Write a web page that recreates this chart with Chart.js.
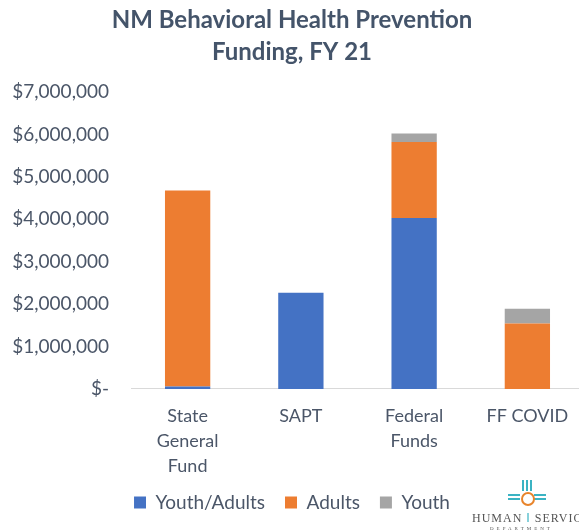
<!DOCTYPE html>
<html>
<head>
<meta charset="utf-8">
<script src="https://cdn.jsdelivr.net/npm/chart.js@4"></script>
<style>
  html, body { margin: 0; padding: 0; background: #fff; overflow: hidden; width: 579px; height: 531px; }
  #wrap { position: absolute; left: 0; top: 0; width: 592px; height: 531px; }
  #logo { position: absolute; left: 472px; top: 480px; width: 120px; height: 51px; font-family: "Liberation Serif", serif; color: #555; }
  #logo .name { position: absolute; top: 31px; left: 0; font-size: 12px; letter-spacing: 1px; white-space: nowrap; }
  #logo .dept { position: absolute; top: 46px; left: 18px; font-size: 5px; letter-spacing: 3px; white-space: nowrap; }
  #logo .sun { position: absolute; left: 49px; top: 12px; width: 10px; height: 10px; border-radius: 50%; border: 2px solid #e8842b; }
  #logo .rv, #logo .rh { position: absolute; background: #3bb3c3; }
</style>
</head>
<body>
<div id="wrap"><canvas id="c"></canvas></div>
<div id="logo">
  <div class="rv" style="left:50px;top:0px;width:2px;height:11px"></div>
  <div class="rv" style="left:54px;top:0px;width:2px;height:11px"></div>
  <div class="rv" style="left:58px;top:0px;width:2px;height:11px"></div>
  <div class="rh" style="left:36px;top:14px;width:12px;height:2px"></div>
  <div class="rh" style="left:36px;top:18px;width:12px;height:2px"></div>
  <div class="rh" style="left:62px;top:14px;width:12px;height:2px"></div>
  <div class="rh" style="left:62px;top:18px;width:12px;height:2px"></div>
  <div class="sun"></div>
  <div class="name">HUMAN <span style="color:#3bb3c3">&#8214;</span> SERVICES</div>
  <div class="dept">DEPARTMENT</div>
</div>
<script>
const categories = [["State", "General", "Fund"], "SAPT", ["Federal", "Funds"], "FF COVID"];
const youthAdults = [60000, 2270000, 4030000, 0];
const adults = [4620000, 0, 1790000, 1540000];
const youth = [0, 0, 200000, 350000];
const yTicks = [0, 1000000, 2000000, 3000000, 4000000, 5000000, 6000000, 7000000];

const textColor = '#4b5668';
const fontFam = 'Lato, "Open Sans", sans-serif';

new Chart(document.getElementById('c'), {
  type: 'bar',
  data: {
    labels: categories,
    datasets: [
      { label: 'Youth/Adults', data: youthAdults, backgroundColor: '#4472C4' },
      { label: 'Adults', data: adults, backgroundColor: '#ED7D31' },
      { label: 'Youth', data: youth, backgroundColor: '#A5A5A5' }
    ]
  },
  options: {
    responsive: true,
    maintainAspectRatio: false,
    animation: false,
    layout: { padding: { left: 0, right: 8, top: 0, bottom: 9 } },
    datasets: { bar: { barPercentage: 0.4, categoryPercentage: 1.0 } },
    plugins: {
      title: {
        display: true,
        text: ['NM Behavioral Health Prevention', 'Funding, FY 21'],
        color: '#44546A',
        font: { family: fontFam, size: 24, weight: 'bold', lineHeight: 1.333 },
        padding: { top: 4, bottom: 24 }
      },
      legend: {
        position: 'bottom',
        labels: {
          color: textColor,
          font: { family: fontFam, size: 19 },
          boxWidth: 12, boxHeight: 12, padding: 20
        }
      },
      tooltip: { enabled: false }
    },
    scales: {
      x: {
        stacked: true,
        clip: false,
        afterFit: (s) => { s.height = s.height - 13; },
        grid: { display: false },
        border: { display: true, color: '#d9d9d9', width: 1 },
        ticks: { color: textColor, font: { family: fontFam, size: 18, lineHeight: 1.39 }, padding: 7, maxRotation: 0, autoSkip: false }
      },
      y: {
        stacked: true,
        min: 0, max: 7000000,
        afterBuildTicks: (s) => { s.ticks = yTicks.map(v => ({ value: v })); },
        afterFit: (s) => { s.width = 131; },
        grid: { display: false, drawTicks: false },
        border: { display: false },
        ticks: {
          color: textColor,
          font: { family: fontFam, size: 19 },
          padding: 22,
          callback: (v) => v === 0 ? '$-' : '$' + Number(v).toLocaleString('en-US')
        }
      }
    }
  }
});
</script>
</body>
</html>
